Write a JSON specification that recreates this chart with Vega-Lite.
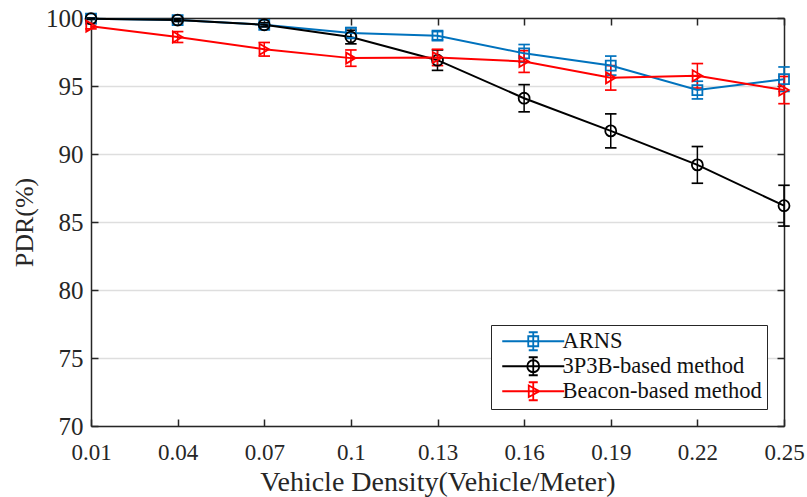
{
  "$schema": "https://vega.github.io/schema/vega-lite/v6.json",
  "width": 693,
  "height": 408,
  "autosize": {"type": "none"},
  "padding": {"left": 91, "top": 18, "right": 23, "bottom": 71},
  "background": "white",
  "data": {"values": [
    {"x": 0.01, "s": "ARNS", "y": 99.95, "lo": 99.9, "hi": 100.0},
    {"x": 0.04, "s": "ARNS", "y": 99.85, "lo": 99.75, "hi": 99.95},
    {"x": 0.07, "s": "ARNS", "y": 99.5, "lo": 99.35, "hi": 99.65},
    {"x": 0.1, "s": "ARNS", "y": 98.9, "lo": 98.5, "hi": 99.3},
    {"x": 0.13, "s": "ARNS", "y": 98.7, "lo": 98.4, "hi": 99.0},
    {"x": 0.16, "s": "ARNS", "y": 97.4, "lo": 96.75, "hi": 98.05},
    {"x": 0.19, "s": "ARNS", "y": 96.5, "lo": 95.8, "hi": 97.2},
    {"x": 0.22, "s": "ARNS", "y": 94.7, "lo": 94.05, "hi": 95.35},
    {"x": 0.25, "s": "ARNS", "y": 95.5, "lo": 94.6, "hi": 96.4},
    {"x": 0.01, "s": "3P3B-based method", "y": 99.95, "lo": 99.9, "hi": 100.0},
    {"x": 0.04, "s": "3P3B-based method", "y": 99.85, "lo": 99.75, "hi": 99.95},
    {"x": 0.07, "s": "3P3B-based method", "y": 99.5, "lo": 99.35, "hi": 99.65},
    {"x": 0.1, "s": "3P3B-based method", "y": 98.6, "lo": 98.1, "hi": 99.1},
    {"x": 0.13, "s": "3P3B-based method", "y": 96.9, "lo": 96.15, "hi": 97.65},
    {"x": 0.16, "s": "3P3B-based method", "y": 94.1, "lo": 93.1, "hi": 95.1},
    {"x": 0.19, "s": "3P3B-based method", "y": 91.7, "lo": 90.45, "hi": 92.95},
    {"x": 0.22, "s": "3P3B-based method", "y": 89.2, "lo": 87.85, "hi": 90.55},
    {"x": 0.25, "s": "3P3B-based method", "y": 86.2, "lo": 84.7, "hi": 87.7},
    {"x": 0.01, "s": "Beacon-based method", "y": 99.4, "lo": 99.2, "hi": 99.6},
    {"x": 0.04, "s": "Beacon-based method", "y": 98.6, "lo": 98.2, "hi": 99.0},
    {"x": 0.07, "s": "Beacon-based method", "y": 97.7, "lo": 97.2, "hi": 98.2},
    {"x": 0.1, "s": "Beacon-based method", "y": 97.05, "lo": 96.45, "hi": 97.65},
    {"x": 0.13, "s": "Beacon-based method", "y": 97.1, "lo": 96.5, "hi": 97.7},
    {"x": 0.16, "s": "Beacon-based method", "y": 96.8, "lo": 96.0, "hi": 97.6},
    {"x": 0.19, "s": "Beacon-based method", "y": 95.6, "lo": 94.7, "hi": 96.5},
    {"x": 0.22, "s": "Beacon-based method", "y": 95.75, "lo": 94.85, "hi": 96.65},
    {"x": 0.25, "s": "Beacon-based method", "y": 94.7, "lo": 93.7, "hi": 95.7}
  ]},
  "config": {
    "view": {"stroke": null},
    "font": "Liberation Serif",
    "axis": {
      "labelFont": "Liberation Serif",
      "titleFont": "Liberation Serif",
      "labelColor": "#262626",
      "titleColor": "#262626",
      "titleFontWeight": "normal",
      "domainColor": "#262626",
      "domainWidth": 1.5,
      "tickColor": "#262626",
      "tickWidth": 1.5,
      "tickSize": -7
    },
    "axisX": {"labelFontSize": 23, "titleFontSize": 28},
    "axisY": {"labelFontSize": 25, "titleFontSize": 26},
    "legend": {
      "title": null,
      "orient": "bottom-right",
      "offset": 17,
      "fillColor": "white",
      "strokeColor": "#262626",
      "padding": 5,
      "labelFont": "Liberation Serif",
      "labelFontSize": 22.5,
      "labelColor": "#111111",
      "labelLimit": 400,
      "symbolSize": 100,
      "symbolStrokeWidth": 1.8,
      "symbolOpacity": 1,
      "symbolFillColor": "transparent",
      "symbolOffset": 26,
      "labelOffset": 18,
      "rowPadding": -1
    }
  },
  "layer": [
    {
      "encoding": {
        "x": {
          "field": "x", "type": "quantitative",
          "scale": {"domain": [0.01, 0.25], "nice": false, "zero": false},
          "axis": {
            "orient": "bottom",
            "values": [0.01, 0.04, 0.07, 0.1, 0.13, 0.16, 0.19, 0.22, 0.25],
            "format": ".2~f",
            "labelPadding": 22,
            "labelFlush": false,
            "title": "Vehicle Density(Vehicle/Meter)",
            "titlePadding": 4,
            "grid": false
          }
        }
      },
      "layer": [
        {
          "mark": {"type": "point", "filled": false, "size": 0, "strokeWidth": 1.8},
          "encoding": {
            "y": {"field": "y", "type": "quantitative",
              "scale": {"domain": [70, 100], "nice": false, "zero": false},
              "axis": {"orient": "left", "values": [70, 75, 80, 85, 90, 95, 100], "title": "PDR(%)", "titlePadding": 8, "labelPadding": 15, "grid": true, "gridColor": "#dedede", "gridWidth": 1.5}},
            "color": {
              "field": "s", "type": "nominal",
              "scale": {"domain": ["ARNS", "3P3B-based method", "Beacon-based method"], "range": ["#0072BD", "#000000", "#FF0000"]},
              "legend": {"title": null, "labelFont": "Liberation Serif", "labelFontSize": 22.5}
            },
            "shape": {
              "field": "s", "type": "nominal",
              "scale": {"domain": ["ARNS", "3P3B-based method", "Beacon-based method"], "range": [
                "M-6.2,0H6.2M-1,-1H1V1H-1ZM0,-1.8V1.8M-0.9,-1.8H0.9M-0.9,1.8H0.9",
                "M-6.2,0H6.2M-1.2,0A1.2,1.2,0,1,0,1.2,0A1.2,1.2,0,1,0,-1.2,0M0,-1.8V1.8M-0.9,-1.8H0.9M-0.9,1.8H0.9",
                "M-6.2,0H6.2M-0.9,-1.15L1.25,0L-0.9,1.15ZM0,-1.8V1.8M-0.9,-1.8H0.9M-0.9,1.8H0.9"
              ]},
              "legend": {"title": null, "labelFont": "Liberation Serif", "labelFontSize": 22.5}
            }
          }
        },
        {
          "mark": {"type": "rule", "strokeWidth": 1.5},
          "encoding": {
            "y": {"field": "lo", "type": "quantitative",
              "axis": {"orient": "left", "values": [70, 75, 80, 85, 90, 95, 100], "title": "PDR(%)", "titlePadding": 8, "labelPadding": 15, "grid": true, "gridColor": "#dedede", "gridWidth": 1.5}},
            "y2": {"field": "hi"},
            "stroke": {"field": "s", "type": "nominal", "scale": {"domain": ["ARNS", "3P3B-based method", "Beacon-based method"], "range": ["#0072BD", "#000000", "#FF0000"]}, "legend": null}
          }
        },
        {
          "mark": {"type": "tick", "orient": "horizontal", "filled": false, "size": 10, "thickness": 0.2, "strokeWidth": 1.5, "opacity": 1},
          "encoding": {
            "y": {"field": "lo", "type": "quantitative",
              "axis": {"orient": "left", "values": [70, 75, 80, 85, 90, 95, 100], "title": "PDR(%)", "titlePadding": 8, "labelPadding": 15, "grid": true, "gridColor": "#dedede", "gridWidth": 1.5}},
            "stroke": {"field": "s", "type": "nominal", "scale": {"domain": ["ARNS", "3P3B-based method", "Beacon-based method"], "range": ["#0072BD", "#000000", "#FF0000"]}, "legend": null}
          }
        },
        {
          "mark": {"type": "tick", "orient": "horizontal", "filled": false, "size": 10, "thickness": 0.2, "strokeWidth": 1.5, "opacity": 1},
          "encoding": {
            "y": {"field": "hi", "type": "quantitative",
              "axis": {"orient": "left", "values": [70, 75, 80, 85, 90, 95, 100], "title": "PDR(%)", "titlePadding": 8, "labelPadding": 15, "grid": true, "gridColor": "#dedede", "gridWidth": 1.5}},
            "stroke": {"field": "s", "type": "nominal", "scale": {"domain": ["ARNS", "3P3B-based method", "Beacon-based method"], "range": ["#0072BD", "#000000", "#FF0000"]}, "legend": null}
          }
        },
        {
          "mark": {"type": "line", "strokeWidth": 2},
          "encoding": {
            "y": {"field": "y", "type": "quantitative",
              "axis": {"orient": "left", "values": [70, 75, 80, 85, 90, 95, 100], "title": "PDR(%)", "titlePadding": 8, "labelPadding": 15, "grid": true, "gridColor": "#dedede", "gridWidth": 1.5}},
            "stroke": {"field": "s", "type": "nominal", "scale": {"domain": ["ARNS", "3P3B-based method", "Beacon-based method"], "range": ["#0072BD", "#000000", "#FF0000"]}, "legend": null}
          }
        },
        {
          "transform": [{"filter": "datum.s === 'ARNS'"}],
          "mark": {"type": "point", "shape": "square", "filled": false, "strokeWidth": 1.8, "size": 100, "opacity": 1},
          "encoding": {
            "y": {"field": "y", "type": "quantitative",
              "axis": {"orient": "left", "values": [70, 75, 80, 85, 90, 95, 100], "title": "PDR(%)", "titlePadding": 8, "labelPadding": 15, "grid": true, "gridColor": "#dedede", "gridWidth": 1.5}},
            "stroke": {"field": "s", "type": "nominal", "scale": {"domain": ["ARNS", "3P3B-based method", "Beacon-based method"], "range": ["#0072BD", "#000000", "#FF0000"]}, "legend": null}
          }
        },
        {
          "transform": [{"filter": "datum.s === '3P3B-based method'"}],
          "mark": {"type": "point", "shape": "circle", "filled": false, "strokeWidth": 1.8, "size": 120, "opacity": 1},
          "encoding": {
            "y": {"field": "y", "type": "quantitative",
              "axis": {"orient": "left", "values": [70, 75, 80, 85, 90, 95, 100], "title": "PDR(%)", "titlePadding": 8, "labelPadding": 15, "grid": true, "gridColor": "#dedede", "gridWidth": 1.5}},
            "stroke": {"field": "s", "type": "nominal", "scale": {"domain": ["ARNS", "3P3B-based method", "Beacon-based method"], "range": ["#0072BD", "#000000", "#FF0000"]}, "legend": null}
          }
        },
        {
          "transform": [{"filter": "datum.s === 'Beacon-based method'"}],
          "mark": {"type": "point", "shape": "triangle-right", "filled": false, "strokeWidth": 1.8, "size": 120, "opacity": 1},
          "encoding": {
            "y": {"field": "y", "type": "quantitative",
              "axis": {"orient": "left", "values": [70, 75, 80, 85, 90, 95, 100], "title": "PDR(%)", "titlePadding": 8, "labelPadding": 15, "grid": true, "gridColor": "#dedede", "gridWidth": 1.5}},
            "stroke": {"field": "s", "type": "nominal", "scale": {"domain": ["ARNS", "3P3B-based method", "Beacon-based method"], "range": ["#0072BD", "#000000", "#FF0000"]}, "legend": null}
          }
        }
      ]
    },
    {
      "mark": {"type": "point", "opacity": 0},
      "encoding": {
        "x": {
          "field": "x", "type": "quantitative",
          "axis": {"orient": "top", "values": [0.01, 0.04, 0.07, 0.1, 0.13, 0.16, 0.19, 0.22, 0.25], "labels": false, "title": null, "grid": false}
        },
        "y": {
          "field": "y", "type": "quantitative",
          "axis": {"orient": "right", "values": [70, 75, 80, 85, 90, 95, 100], "labels": false, "title": null, "grid": false}
        }
      }
    }
  ]
}
